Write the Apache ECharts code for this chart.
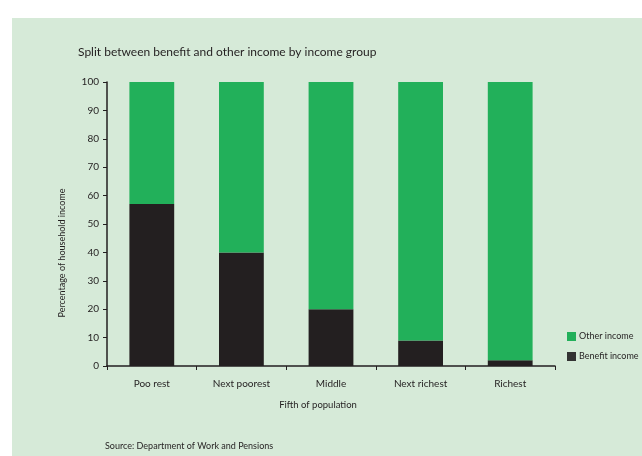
<!DOCTYPE html>
<html>
<head>
<meta charset="utf-8">
<script src="https://cdn.jsdelivr.net/npm/echarts@6/dist/echarts.min.js"></script>
<style>
html,body{margin:0;padding:0;background:#fff;}
#chart{width:642px;height:456px;}
</style>
</head>
<body>
<div id="chart"></div>
<script>
var categories = ['Poo rest', 'Next poorest', 'Middle', 'Next richest', 'Richest'];
var benefitIncome = [57, 40, 20, 9, 2];
var otherIncome = [43, 60, 80, 91, 98];
var yTicks = [0, 10, 20, 30, 40, 50, 60, 70, 80, 90, 100];

var FONT = 'Lato';
var INK = '#231f20';
var chart = echarts.init(document.getElementById('chart'), null, {renderer: 'canvas'});
chart.setOption({
  backgroundColor: '#ffffff',
  animation: false,
  textStyle: {fontFamily: FONT, color: INK},
  graphic: [
    {type: 'rect', z: -10, shape: {x: 12, y: 18, width: 630, height: 438}, style: {fill: '#d6ead8'}},
    {type: 'text', x: 78, y: 52, style: {text: 'Split between benefit and other income by income group', font: '12px Lato', fill: INK, textVerticalAlign: 'middle'}},
    {type: 'text', x: 62, y: 253, rotation: Math.PI / 2, style: {text: 'Percentage of household income', font: '9px Lato', fill: INK, textAlign: 'center', textVerticalAlign: 'middle'}},
    {type: 'text', x: 318, y: 405, style: {text: 'Fifth of population', font: '9.5px Lato', fill: INK, textAlign: 'center', textVerticalAlign: 'middle'}},
    {type: 'text', x: 105, y: 446, style: {text: 'Source: Department of Work and Pensions', font: '9px Lato', fill: INK, textVerticalAlign: 'middle'}}
  ],
  legend: {
    orient: 'vertical',
    left: 567, top: 332, padding: 0,
    itemWidth: 9, itemHeight: 9, itemGap: 11,
    icon: 'rect',
    textStyle: {fontFamily: FONT, fontSize: 9, color: INK, padding: [0, 0, 0, -2]},
    data: [
      {name: 'Other income', itemStyle: {color: '#22b05a'}},
      {name: 'Benefit income', itemStyle: {color: '#333333'}}
    ]
  },
  grid: {left: 107, right: 87, top: 82, bottom: 90, containLabel: false},
  xAxis: {
    type: 'category',
    data: categories,
    boundaryGap: true,
    axisLine: {lineStyle: {color: INK, width: 1.5}},
    axisTick: {show: true, length: 4, alignWithLabel: false, lineStyle: {color: INK, width: 1}},
    axisLabel: {fontFamily: FONT, fontSize: 10, color: INK, margin: 13}
  },
  yAxis: {
    type: 'value',
    min: 0, max: 100, interval: 10,
    splitLine: {show: false},
    axisLine: {show: true, lineStyle: {color: INK, width: 1.5}},
    axisTick: {show: true, length: 4, lineStyle: {color: INK, width: 1}},
    axisLabel: {fontFamily: FONT, fontSize: 10, color: INK, margin: 8,
      formatter: function (v) { return yTicks.indexOf(v) >= 0 ? String(v) : ''; }}
  },
  series: [
    {name: 'Benefit income', type: 'bar', stack: 'total', data: benefitIncome, barWidth: '50%', itemStyle: {color: INK}},
    {name: 'Other income', type: 'bar', stack: 'total', data: otherIncome, barWidth: '50%', itemStyle: {color: '#22b05a'}}
  ]
});
</script>
</body>
</html>
